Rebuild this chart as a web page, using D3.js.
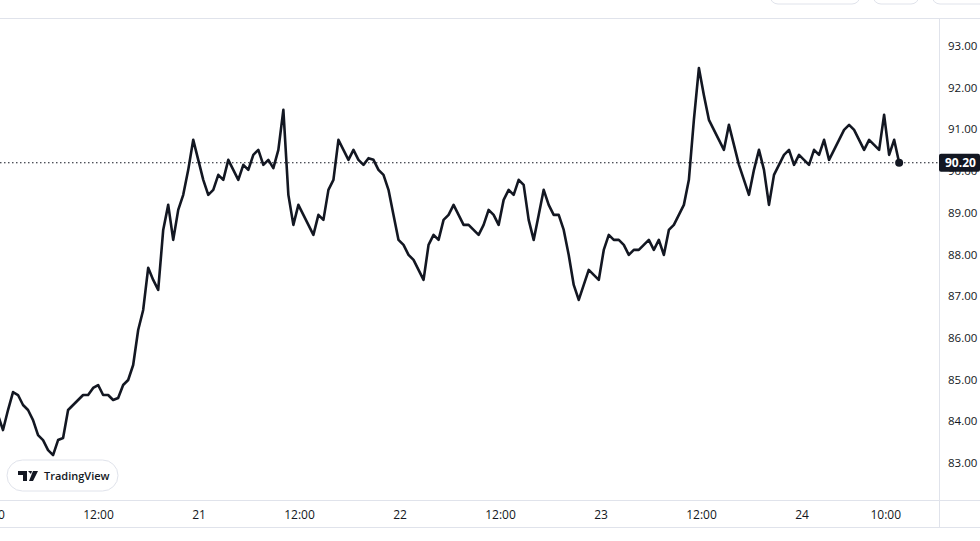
<!DOCTYPE html>
<html><head><meta charset="utf-8">
<script src="https://cdn.jsdelivr.net/npm/d3@7"></script>
<style>body{margin:0;background:#fff;font-family:"Open Sans",Roboto,sans-serif}</style>
</head><body><div id="chart"></div>
<script>
// price readings, roughly every 36 minutes from day 20 00:00
var prices = [84.15,83.79,84.27,84.70,84.63,84.39,84.27,84.03,83.67,83.55,83.31,83.19,83.55,83.60,84.27,84.39,84.51,84.63,84.63,84.80,
  84.87,84.63,84.63,84.51,84.56,84.87,84.99,85.35,86.19,86.67,87.68,87.39,87.15,88.59,89.19,88.35,89.07,89.43,90.03,90.75,
  90.27,89.79,89.43,89.55,89.91,89.79,90.27,90.03,89.79,90.15,90.03,90.39,90.51,90.15,90.27,90.07,90.51,91.47,89.43,88.71,
  89.19,88.95,88.71,88.47,88.95,88.83,89.55,89.79,90.75,90.51,90.27,90.51,90.27,90.15,90.31,90.27,90.03,89.91,89.55,88.95,
  88.35,88.23,87.99,87.87,87.63,87.39,88.23,88.47,88.35,88.83,88.95,89.19,88.95,88.71,88.71,88.59,88.47,88.71,89.07,88.95,
  88.71,89.31,89.55,89.43,89.79,89.67,88.83,88.35,88.95,89.55,89.19,88.95,88.95,88.59,87.99,87.27,86.91,87.27,87.63,87.51,
  87.39,88.11,88.47,88.35,88.35,88.23,87.99,88.11,88.11,88.23,88.35,88.11,88.35,87.99,88.59,88.71,88.95,89.19,89.79,91.23,
  92.47,91.82,91.23,90.99,90.75,90.51,91.11,90.63,90.15,89.79,89.43,90.03,90.51,90.03,89.19,89.91,90.15,90.39,90.51,90.15,
  90.39,90.27,90.15,90.51,90.39,90.75,90.27,90.51,90.75,90.99,91.11,90.99,90.75,90.51,90.75,90.63,90.51,91.35,90.39,90.75,90.20];
var startHour = 0, endHour = 107.6;
var yTicks = [83,84,85,86,87,88,89,90,91,92,93];
var xTicks = [{h:0,t:"20"},{h:12,t:"12:00"},{h:24,t:"21"},{h:36,t:"12:00"},{h:48,t:"22"},{h:60,t:"12:00"},
  {h:72,t:"23"},{h:84,t:"12:00"},{h:96,t:"24"},{h:106,t:"10:00"}];
var lastPrice = 90.20;

var W = 980, H = 541, plotR = 939, plotT = 18, plotB = 500;
var svg = d3.select("#chart").append("svg").attr("width", W).attr("height", H);
var hours = prices.map(function(d, i){ return startHour + i * (endHour - startHour) / (prices.length - 1); });

var x = d3.scaleLinear().domain([0, 96]).range([-2, 802]);
var y = d3.scaleLinear().domain([83, 93]).range([463, 46]);

// top toolbar remnants
[[770,860],[873,919],[932,990]].forEach(function(b){
  svg.append("rect").attr("x", b[0]).attr("y", -12).attr("width", b[1]-b[0]).attr("height", 16)
    .attr("rx", 8).attr("fill", "#fff").attr("stroke", "#e0e3eb");
});
svg.append("line").attr("x1",0).attr("x2",W).attr("y1",plotT+0.5).attr("y2",plotT+0.5).attr("stroke","#e0e3eb");
svg.append("line").attr("x1",plotR+0.5).attr("x2",plotR+0.5).attr("y1",plotT).attr("y2",527).attr("stroke","#e0e3eb");
svg.append("line").attr("x1",0).attr("x2",W).attr("y1",plotB+0.5).attr("y2",plotB+0.5).attr("stroke","#e0e3eb");
svg.append("line").attr("x1",0).attr("x2",W).attr("y1",527.5).attr("y2",527.5).attr("stroke","#e0e3eb");

// y axis labels
svg.selectAll(".yl").data(yTicks).enter().append("text")
  .attr("x", 948).attr("y", function(d){ return y(d) + 4; })
  .attr("font-size", 11.5).attr("fill", "#131722")
  .text(function(d){ return d.toFixed(2); });

// x axis labels
svg.selectAll(".xl").data(xTicks).enter().append("text")
  .attr("x", function(d){ return x(d.h); }).attr("y", 519)
  .attr("text-anchor", "middle").attr("font-size", 12).attr("fill", "#131722")
  .text(function(d){ return d.t; });

// last price dotted line
svg.append("line").attr("x1",0).attr("x2",plotR).attr("y1",y(lastPrice)).attr("y2",y(lastPrice))
  .attr("stroke","#131722").attr("stroke-dasharray","1.5,2.5").attr("stroke-width",1);

var g = svg.append("g");
var line = d3.line().x(function(d, i){ return x(hours[i]); }).y(function(d){ return y(d); });
g.append("path").datum(prices).attr("d", line).attr("fill","none")
  .attr("stroke","#131722").attr("stroke-width",2.6).attr("stroke-linejoin","round");
g.append("circle").attr("cx", x(hours[hours.length-1])).attr("cy", y(prices[prices.length-1]))
  .attr("r", 4).attr("fill","#131722");

// price label
svg.append("rect").attr("x", 939).attr("y", y(lastPrice)-9).attr("width", 41).attr("height", 18)
  .attr("rx", 2).attr("fill","#131722");
svg.append("text").attr("x", 945).attr("y", y(lastPrice)+4.5).attr("font-size", 12).attr("font-weight","bold")
  .attr("fill","#fff").text(lastPrice.toFixed(2));

// TradingView badge
var b = svg.append("g").attr("transform","translate(7,460)");
b.append("rect").attr("width",111).attr("height",31).attr("rx",15.5).attr("fill","#fff").attr("stroke","#e0e3eb");
b.append("path").attr("d","M11 11h9v10h-4v-6h-5z M21 11h4l-1 3z M26 11h5l-5 10h-4z").attr("fill","#131722");
b.append("text").attr("x",37).attr("y",20).attr("font-size",11).attr("font-weight",600).attr("fill","#131722").text("TradingView");
</script></body></html>
